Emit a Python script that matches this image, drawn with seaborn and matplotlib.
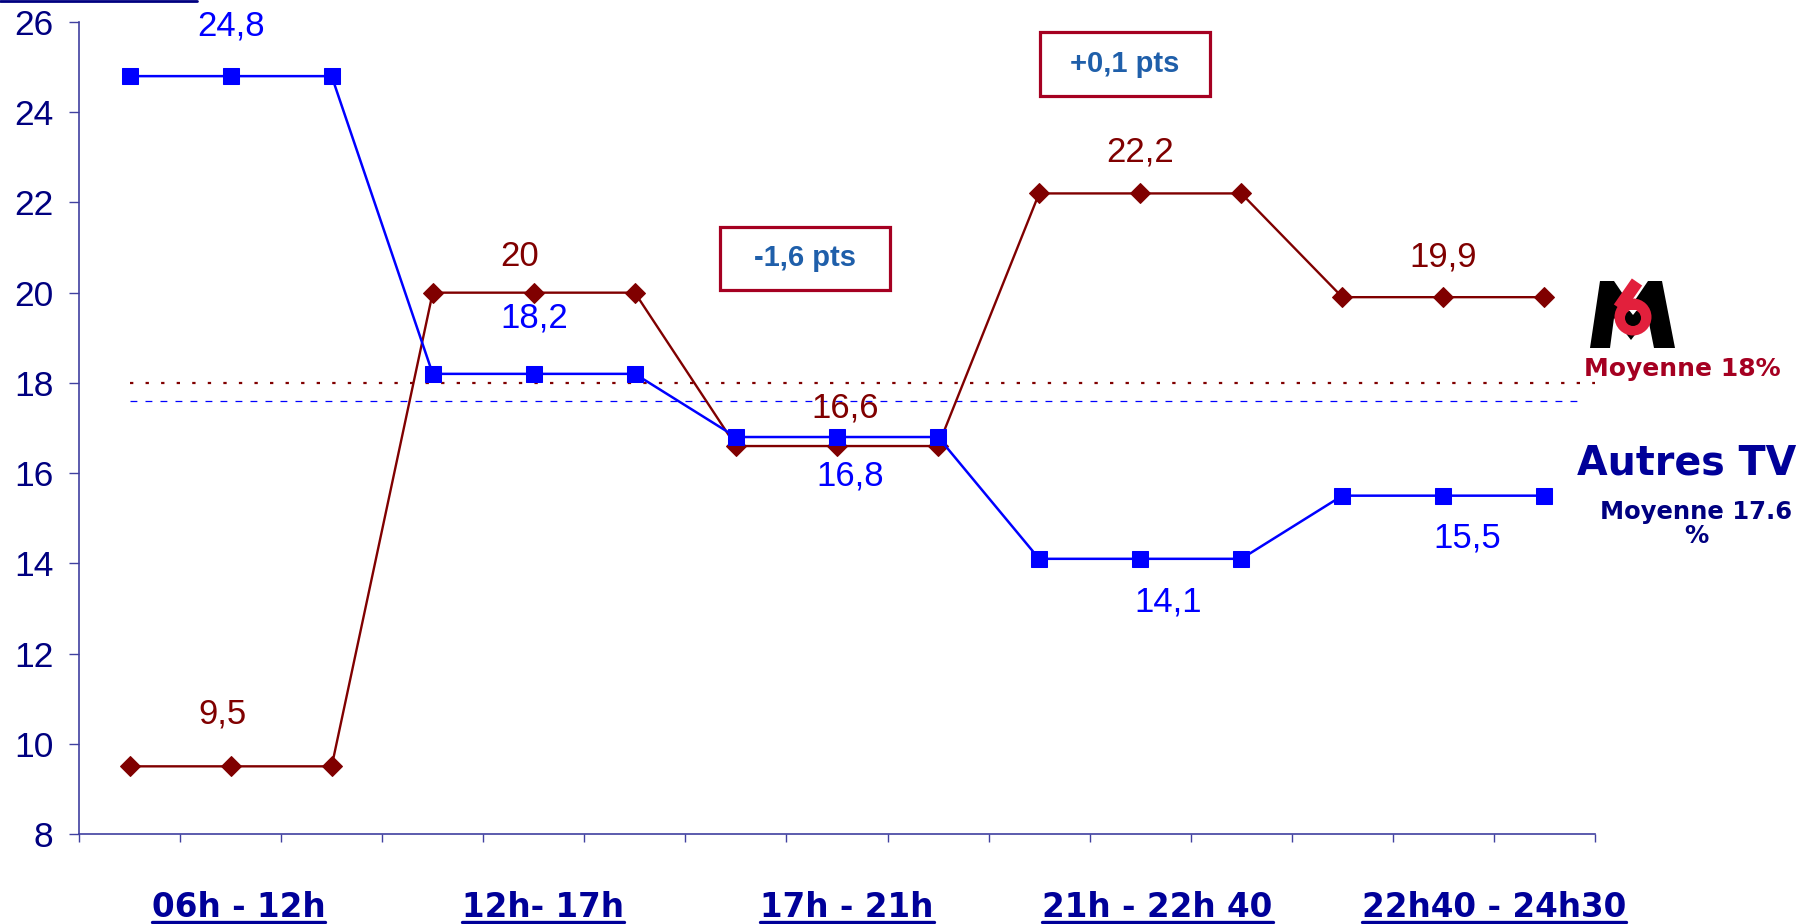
import matplotlib
matplotlib.use("Agg")
import matplotlib.pyplot as plt
import seaborn as sns
import pandas as pd
import numpy as np
from matplotlib.patches import Rectangle, Polygon, Ellipse
from matplotlib.lines import Line2D
import matplotlib.transforms as mtransforms

# ---------------- data ----------------
groups = ["06h - 12h", "12h- 17h", "17h - 21h", "21h - 22h 40", "22h40 - 24h30"]
points_per_group = 3
m6_values = [9.5, 9.5, 9.5, 20.0, 20.0, 20.0, 16.6, 16.6, 16.6,
             22.2, 22.2, 22.2, 19.9, 19.9, 19.9]
autres_values = [24.8, 24.8, 24.8, 18.2, 18.2, 18.2, 16.8, 16.8, 16.8,
                 14.1, 14.1, 14.1, 15.5, 15.5, 15.5]
m6_group_labels = [9.5, 20.0, 16.6, 22.2, 19.9]
autres_group_labels = [24.8, 18.2, 16.8, 14.1, 15.5]
m6_average = 18.0
autres_average = 17.6
box_texts = ["-1,6 pts", "+0,1 pts"]
y_ticks = [8, 10, 12, 14, 16, 18, 20, 22, 24, 26]

# ---------------- style ----------------
W, H = 1816, 924
sns.set_theme(style="white")
plt.rcParams["font.family"] = ["Liberation Sans", "DejaVu Sans"]

RED = "#800000"
BLUE = "#0000FF"
NAVY = "#000080"
SPINE = "#4040A0"
BOX_EDGE = "#A50021"
BOX_TEXT = "#1F5FAA"
LOGO_RED = "#E2203C"

fig = plt.figure(figsize=(W / 100, H / 100), dpi=100)
fig.patch.set_facecolor("white")
ax = fig.add_axes([79 / W, 1 - 834 / H, (1595 - 79) / W, (834 - 22) / H])
ax.set_facecolor("white")

n = len(m6_values)
x = np.arange(n)
df = pd.DataFrame({"x": np.concatenate([x, x]),
                   "y": m6_values + autres_values,
                   "serie": ["M6"] * n + ["Autres TV"] * n})

sns.lineplot(data=df[df.serie == "M6"], x="x", y="y", ax=ax, color=RED,
             marker="D", markersize=10, markeredgecolor=RED, linewidth=1.7,
             legend=False)
sns.lineplot(data=df[df.serie == "Autres TV"], x="x", y="y", ax=ax, color=BLUE,
             marker="s", markersize=11, markeredgecolor=BLUE, linewidth=1.8,
             legend=False)

# averages
ax.plot([0, n - 0.5], [m6_average] * 2, color=RED, linewidth=1.6,
        dashes=(1.5, 5.5), zorder=1)
ax.plot([0, n - 0.65], [autres_average] * 2, color=BLUE, linewidth=0.9,
        dashes=(5.5, 6.5), zorder=1)

# axes
ax.set_xlim(-0.5, n - 0.5)
ax.set_ylim(8, 26)
ax.set_yticks(y_ticks)
ax.set_yticklabels([str(t) for t in y_ticks], fontsize=25.5, color=NAVY)
ax.set_xticks(np.arange(-0.5, n, 1.0))
ax.set_xticklabels([])
ax.set_xlabel("")
ax.set_ylabel("")
ax.grid(False)
for s in ["top", "right"]:
    ax.spines[s].set_visible(False)
for s in ["left", "bottom"]:
    ax.spines[s].set_color(SPINE)
    ax.spines[s].set_linewidth(1.2)
ax.tick_params(axis="y", which="major", direction="out", length=7.5, width=1.0,
               color=SPINE, pad=11, left=True)
ax.tick_params(axis="x", which="major", direction="out", length=6, width=1.0,
               color=SPINE, bottom=True)

# data labels (centre point of each group)
def fmt(v):
    return f"{v:g}".replace(".", ",")

m6_offsets = [(-8, 52), (-14, 36), (8, 38), (0, 41), (0, 40)]
autres_offsets = [(0, 50), (0, 56), (13, -39), (28, -43), (24, -42)]
for g in range(len(groups)):
    xc = g * points_per_group + 1
    ax.annotate(fmt(m6_group_labels[g]), (xc, m6_group_labels[g]),
                xytext=m6_offsets[g], textcoords="offset pixels",
                ha="center", va="center", fontsize=25, color=RED)
    ax.annotate(fmt(autres_group_labels[g]), (xc, autres_group_labels[g]),
                xytext=autres_offsets[g], textcoords="offset pixels",
                ha="center", va="center", fontsize=25, color=BLUE)

# group labels (bold, underlined)
group_label_x = [1.08, 4.09, 7.1, 10.17, 13.5]
trans = mtransforms.blended_transform_factory(ax.transData, fig.transFigure)
glabels = []
for g, lab in enumerate(groups):
    t = ax.text(group_label_x[g], 1 - 917 / H, lab, transform=trans,
                ha="center", va="baseline", fontsize=23.5, fontweight="bold",
                color="#000099", family="DejaVu Sans", clip_on=False)
    glabels.append(t)

# boxes
boxes = [(720, 227, 890, 290), (1040, 32, 1210, 96)]
for (x0, y0, x1, y1), txt in zip(boxes, box_texts):
    fig.patches.append(Rectangle((x0 / W, 1 - y1 / H), (x1 - x0) / W, (y1 - y0) / H,
                                 transform=fig.transFigure, fill=False,
                                 edgecolor=BOX_EDGE, linewidth=2.3))
    fig.text((x0 + x1) / 2 / W, 1 - (y0 + y1) / 2 / H, txt, ha="center",
             va="center", fontsize=21, fontweight="bold", color=BOX_TEXT)

# M6 logo drawn with patches (pixel coords -> figure fraction)
def P(px, py):
    return (px / W, 1 - py / H)

m_pts = [(1590, 348), (1600, 281), (1614, 281), (1631, 306), (1648, 281),
         (1662, 281), (1675, 348), (1654, 348), (1648, 318), (1631, 340),
         (1614, 318), (1610, 348)]
fig.patches.append(Polygon([P(*p) for p in m_pts], closed=True,
                           transform=fig.transFigure, facecolor="black",
                           edgecolor="none"))
fig.add_artist(Line2D([1619 / W, 1637 / W], [1 - 308 / H, 1 - 282 / H],
                      transform=fig.transFigure, color=LOGO_RED,
                      linewidth=9, solid_capstyle="butt"))
fig.patches.append(Ellipse(P(1633, 317), 37 / W, 37 / H,
                           transform=fig.transFigure,
                           facecolor=LOGO_RED, edgecolor="none"))
fig.patches.append(Ellipse(P(1633, 318), 16 / W, 16 / H,
                           transform=fig.transFigure,
                           facecolor="black", edgecolor="none"))
fig.patches.append(Polygon([P(1629, 310), P(1637, 310), P(1633, 315)],
                           closed=True, transform=fig.transFigure,
                           facecolor="white", edgecolor="none"))

# right-side legend texts
fig.text(1682 / W, 1 - 369 / H, "Moyenne 18%", ha="center", va="center",
         fontsize=18, fontweight="bold", color=BOX_EDGE, family="DejaVu Sans")
fig.text(1687 / W, 1 - 463 / H, "Autres TV", ha="center", va="center",
         fontsize=28.5, fontweight="bold", color="#000099", family="DejaVu Sans")
fig.text(1696 / W, 1 - 524 / H, "Moyenne 17.6\n%", ha="center", va="center",
         fontsize=17.5, fontweight="bold", color="#000080", family="DejaVu Sans",
         linespacing=1.05)

# top-left stray line
fig.add_artist(Line2D([0, 197 / W], [1 - 1 / H, 1 - 1 / H],
                      transform=fig.transFigure, color="#000080", linewidth=2))

# underline group labels
fig.canvas.draw()
renderer = fig.canvas.get_renderer()
for t in glabels:
    bb = t.get_window_extent(renderer)
    yu = 1 - 922 / H
    fig.add_artist(Line2D([bb.x0 / W, bb.x1 / W], [yu, yu],
                          transform=fig.transFigure, color="#000099",
                          linewidth=2.4))

fig.savefig("out.png", dpi=100, facecolor="white")
